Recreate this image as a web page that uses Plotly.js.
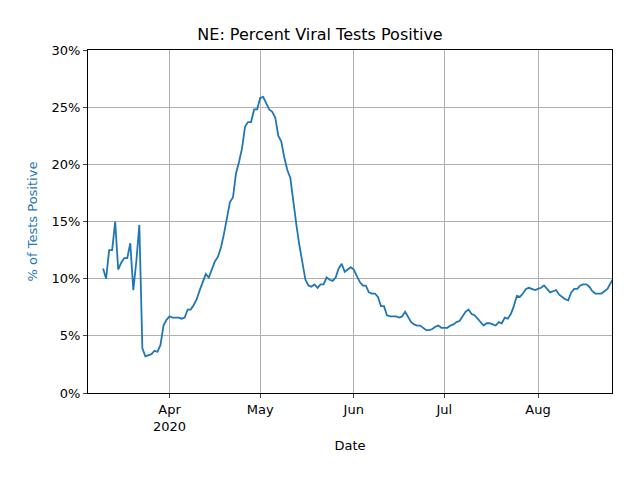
<!DOCTYPE html>
<html>
<head>
<script src="https://cdn.plot.ly/plotly-3.0.1.min.js"></script>
</head>
<body style="margin:0">
<div id="chart" style="width:640px;height:480px"></div>
<script>
// daily percent positive, starting 2020-03-10
const start_date = '2020-03-10'
const pct_positive = [
  10.9, 10.0, 12.5, 12.5, 15.0, 10.8, 11.4, 11.8, 11.8, 13.1, 9.0, 11.5, 14.7, 3.9, 3.2, 3.3, 3.4, 3.7, 3.6, 4.2,
  5.9, 6.4, 6.7, 6.6, 6.6, 6.6, 6.5, 6.6, 7.3, 7.3, 7.7, 8.2, 9.0, 9.7, 10.4, 10.1, 10.8, 11.5, 11.9, 12.7,
  13.9, 15.5, 16.7, 17.1, 19.2, 20.2, 21.4, 23.3, 23.7, 23.7, 24.8, 24.8, 25.8, 25.9, 25.4, 24.8, 24.6, 24.1, 22.5, 22.0,
  20.6, 19.5, 18.8, 16.6, 14.7, 12.9, 11.2, 9.9, 9.4, 9.3, 9.5, 9.2, 9.5, 9.5, 10.1, 9.9, 9.8, 10.1, 10.9, 11.3,
  10.6, 10.8, 11.0, 10.8, 10.2, 9.7, 9.4, 9.4, 8.8, 8.7, 8.7, 8.4, 7.6, 7.6, 6.8, 6.7, 6.7, 6.7, 6.6, 6.7,
  7.1, 6.6, 6.2, 6.0, 5.9, 5.9, 5.7, 5.5, 5.5, 5.6, 5.8, 5.9, 5.7, 5.7, 5.7, 5.9, 6.0, 6.2, 6.3, 6.7,
  7.1, 7.3, 6.9, 6.8, 6.5, 6.2, 5.9, 6.1, 6.1, 6.0, 5.9, 6.2, 6.1, 6.6, 6.5, 6.9, 7.6, 8.5, 8.4, 8.7,
  9.1, 9.2, 9.1, 9.0, 9.1, 9.2, 9.4, 9.1, 8.8, 8.9, 9.0, 8.6, 8.4, 8.2, 8.1, 8.8, 9.1, 9.1, 9.4, 9.5,
  9.5, 9.3, 8.9, 8.7, 8.7, 8.7, 8.9, 9.1, 9.6, 10.0
]
const tick_dates = ['2020-04-01', '2020-05-01', '2020-06-01', '2020-07-01', '2020-08-01']
const tick_labels = ['Apr<br>2020', 'May', 'Jun', 'Jul', 'Aug']
const y_ticks = [0, 5, 10, 15, 20, 25, 30]

var dates = []
var d0 = new Date(start_date + 'T00:00:00Z')
for (let i = 0; i < pct_positive.length; i++) {
  let d = new Date(d0.getTime() + i * 86400000)
  dates.push(d.toISOString().slice(0, 10))
}

var trace = {
  x: dates,
  y: pct_positive,
  type: 'scatter',
  mode: 'lines',
  line: {color: '#1f77b4', width: 1.8}
}

var layout = {
  width: 640,
  height: 480,
  margin: {l: 88, r: 28, t: 50, b: 87, pad: 0},
  paper_bgcolor: 'white',
  plot_bgcolor: 'white',
  font: {family: 'DejaVu Sans', size: 13, color: 'black'},
  showlegend: false,
  title: {text: 'NE: Percent Viral Tests Positive', x: 0.5, xanchor: 'center', y: 0.94, font: {size: 16}},
  xaxis: {
    title: {text: 'Date', font: {size: 13}, standoff: 8},
    range: ['2020-03-05', '2020-08-25 12:00'],
    tickmode: 'array',
    tickvals: tick_dates,
    ticktext: tick_labels,
    ticks: 'outside', ticklen: 4,
    showgrid: true, gridcolor: '#b0b0b0',
    showline: true, linecolor: 'black', mirror: true,
    zeroline: false
  },
  yaxis: {
    title: {text: '% of Tests Positive', font: {size: 13, color: '#1f77b4'}, standoff: 10},
    range: [0, 30],
    tickmode: 'array',
    tickvals: y_ticks,
    ticktext: y_ticks.map(v => v + '%'),
    ticks: 'outside', ticklen: 4,
    showgrid: true, gridcolor: '#b0b0b0',
    showline: true, linecolor: 'black', mirror: true,
    zeroline: false
  }
}

Plotly.newPlot('chart', [trace], layout, {displayModeBar: false})
</script>
</body>
</html>
